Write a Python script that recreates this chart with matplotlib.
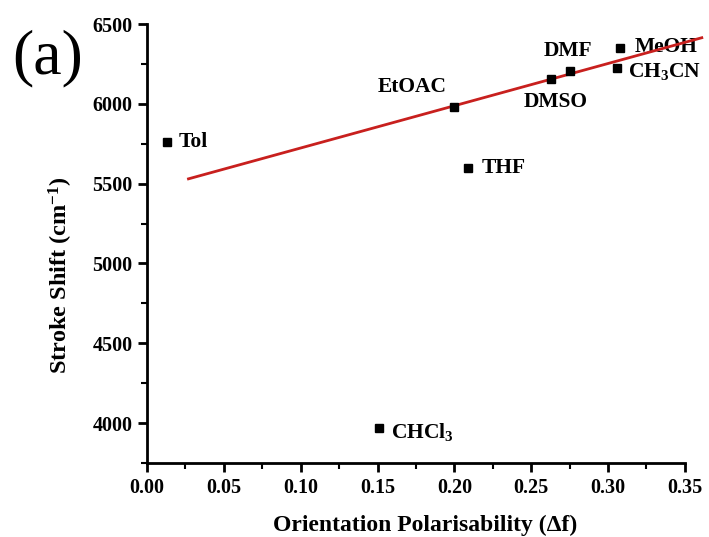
import matplotlib
matplotlib.use("Agg")
import matplotlib.pyplot as plt
from matplotlib.ticker import MultipleLocator

# solvent data, orientation polarisability vs Stokes shift (cm-1)
solvents = ["Tol", "EtOAC", "THF", "DMSO", "DMF", "MeOH", "CH$_3$CN", "CHCl$_3$"]
delta_f = [0.013, 0.200, 0.209, 0.263, 0.275, 0.308, 0.306, 0.151]
shift = [5758, 5977, 5596, 6157, 6206, 6348, 6227, 3970]

# linear fit line end points
fit_x = [0.027, 0.361]
fit_y = [5530, 6414]

# label offsets in pixels (dx, dy) and alignment
offsets = [(12, 0, "left"), (-8, 20, "right"), (13, 0, "left"), (4, -23, "center"),
           (-2, 20, "center"), (14, 1, "left"), (11, -4, "left"), (12, -4, "left")]

plt.rcParams["font.family"] = ["Liberation Serif", "DejaVu Serif"]
plt.rcParams["mathtext.fontset"] = "custom"
plt.rcParams["mathtext.rm"] = "Liberation Serif:bold"
plt.rcParams["mathtext.it"] = "Liberation Serif:bold"
plt.rcParams["mathtext.bf"] = "Liberation Serif:bold"

fig = plt.figure(figsize=(7.09, 5.37), dpi=100)
ax = fig.add_axes([0.2073, 0.1378, 0.7587, 0.8175])

ax.plot(fit_x, fit_y, color="#c8201e", lw=2, clip_on=False, zorder=2)
ax.plot(delta_f, shift, "s", color="black", ms=6.3, clip_on=False, zorder=3)

for name, x, y, (dx, dy, ha) in zip(solvents, delta_f, shift, offsets):
    ax.annotate(name, (x, y), xytext=(dx, dy), textcoords="offset pixels",
                ha=ha, va="center", fontsize=15.5, fontweight="bold", zorder=1.5)

ax.set_xlim(0, 0.35)
ax.set_ylim(3750, 6500)
ax.xaxis.set_major_locator(MultipleLocator(0.05))
ax.xaxis.set_minor_locator(MultipleLocator(0.025))
ax.yaxis.set_major_locator(MultipleLocator(500))
ax.yaxis.set_minor_locator(MultipleLocator(250))
ax.xaxis.set_major_formatter(lambda v, p: f"{v:.2f}")

for s in ["top", "right"]:
    ax.spines[s].set_visible(False)
for s in ["left", "bottom"]:
    ax.spines[s].set_linewidth(2)

ax.tick_params(which="major", length=6.5, width=2, direction="out", labelsize=14.5, pad=4)
ax.tick_params(which="minor", length=4, width=1.5, direction="out")
for lab in ax.get_xticklabels() + ax.get_yticklabels():
    lab.set_fontweight("bold")

ax.set_xlabel("Orientation Polarisability (Δf)", fontsize=17, fontweight="bold")
ax.set_ylabel("Stroke Shift (cm$^{-1}$)", fontsize=17.5, fontweight="bold")
ax.xaxis.set_label_coords(0.517, -0.118)
ax.yaxis.set_label_coords(-0.134, 0.428)

fig.text(0.017, 0.892, "(a)", fontsize=46, va="center", ha="left")

fig.savefig("out.png", dpi=100)
